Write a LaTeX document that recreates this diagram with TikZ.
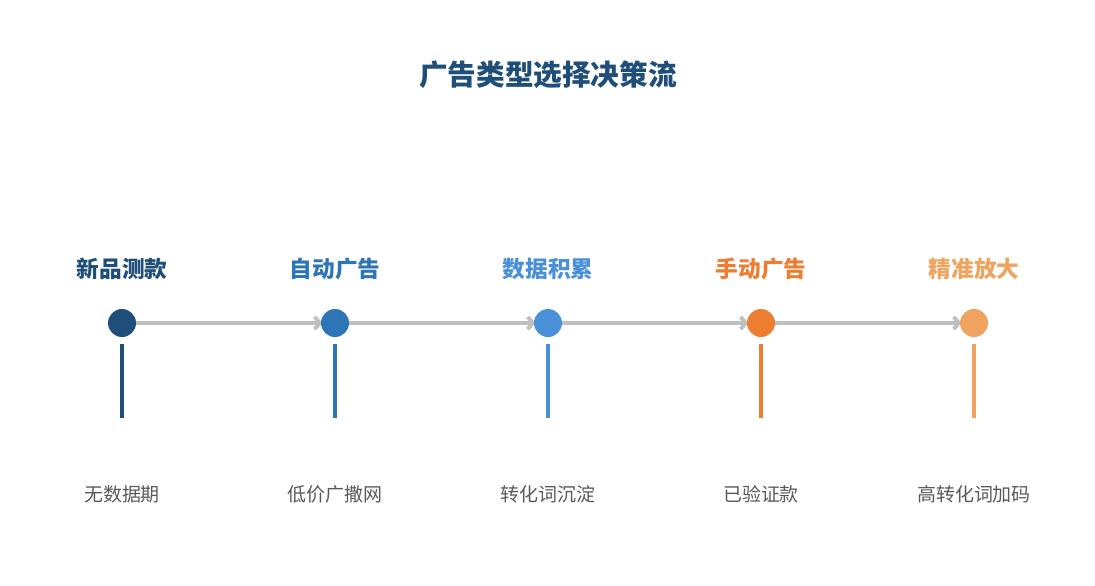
\documentclass[tikz,border=0pt]{standalone}
\usepackage{fontspec}
\usepackage{tikz}
\usetikzlibrary{calc, arrows.meta, positioning, backgrounds}
\newfontfamily\cjk{Noto Sans CJK SC}
\definecolor{navy}{HTML}{1F4E79}
\definecolor{midblue}{HTML}{2E75B6}
\definecolor{skyblue}{HTML}{4A90D9}
\definecolor{deeporange}{HTML}{ED7D31}
\definecolor{softorange}{HTML}{F0A35E}
\definecolor{flowgray}{HTML}{BFBFBF}
\definecolor{notegray}{HTML}{595959}
\tikzset{
    stage/.style = {circle, fill=#1, minimum size=0.56cm, inner sep=0pt},
    stagename/.style = {font=\cjk\bfseries\fontsize{12.9}{14}\selectfont, text=#1},
    stagenote/.style = {font=\cjk\fontsize{10.8}{12}\selectfont, text=notegray},
    flow/.style = {draw=flowgray, line width=2.2pt, shorten >=-1pt, -{Straight Barb[length=3pt, width=7pt]}},
    stem/.style = {draw=#1, line width=1.9pt}
}
\newcommand{\drawStage}[5]{
    \node[stage=#3] (s#1) at (#2, 323) {};
    \node[stagename=#3] (n#1) at (#2, 269) {#4};
    \node[stagenote] (b#1) at (#2, 494) {#5};
    \coordinate (t#1) at (#2, 344);
    \coordinate (u#1) at (#2, 418);
    \draw[stem=#3] (t#1) -- (u#1);
}

\begin{document}
\begin{tikzpicture}[x=0.02cm, y=-0.02cm]
    \useasboundingbox (0,0) rectangle (1095,585);

    % Title
        \node[font=\cjk\bfseries\fontsize{16.3}{18}\selectfont, text=navy] (title) at (548, 75) {广告类型选择决策流};

    % Stages
        \drawStage{1}{122}{navy}{新品测款}{无数据期}
        \drawStage{2}{335}{midblue}{自动广告}{低价广撒网}
        \drawStage{3}{548}{skyblue}{数据积累}{转化词沉淀}
        \drawStage{4}{761}{deeporange}{手动广告}{已验证款}
        \drawStage{5}{974}{softorange}{精准放大}{高转化词加码}

    % Flow
    \begin{scope}[on background layer]
        \draw[flow] (s1) -- (s2);
        \draw[flow] (s2) -- (s3);
        \draw[flow] (s3) -- (s4);
        \draw[flow] (s4) -- (s5);
    \end{scope}
\end{tikzpicture}
\end{document}
